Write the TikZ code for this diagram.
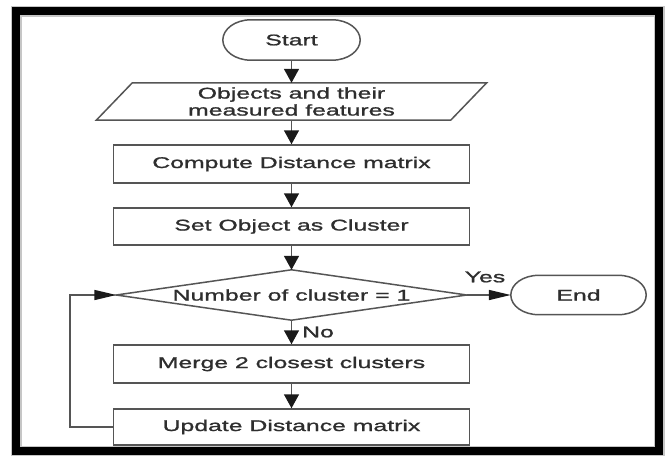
\documentclass[tikz,border=0pt]{standalone}
\usepackage{fontspec}
\setmainfont[FakeStretch=1.6,FakeBold=1.2]{Liberation Sans}
\usetikzlibrary{arrows.meta}
\definecolor{ln}{HTML}{555555}
\definecolor{tx}{HTML}{2E2E2E}
\definecolor{ah}{HTML}{1A1A1A}
\newcommand{\stadium}[1]{%
  \draw[ln, line width=1.5pt]
    ([xshift=28pt]#1.north west) -- ([xshift=-28pt]#1.north east)
    .. controls ([xshift=-12.5pt]#1.north east) and ([yshift=11pt]#1.east) .. (#1.east)
    .. controls ([yshift=-11pt]#1.east) and ([xshift=-12.5pt]#1.south east) .. ([xshift=-28pt]#1.south east)
    -- ([xshift=28pt]#1.south west)
    .. controls ([xshift=12.5pt]#1.south west) and ([yshift=-11pt]#1.west) .. (#1.west)
    .. controls ([yshift=11pt]#1.west) and ([xshift=12.5pt]#1.north west) .. cycle;}
\begin{document}
\begin{tikzpicture}[x=1pt,y=-1pt,
  txt/.style={inner sep=0pt, text=tx, font=\fontsize{15.5}{17}\selectfont, align=center},
  box/.style={txt, draw=ln, line width=1.5pt, minimum width=356pt},
  varrow/.style={draw=ln, line width=1.5pt, -{Triangle[length=14pt,width=15pt,color=ah]}},
  harrow/.style={draw=ln, line width=1.5pt, -{Triangle[length=22pt,width=10pt,color=ah]}}]
\useasboundingbox (0,0) rectangle (666,455);
\fill[white] (0,0) rectangle (666,455);
\draw[gray!45, line width=11pt] (16,11) rectangle (659,451);
\draw[black, line width=8pt] (16,11) rectangle (659,451);

\node[txt, minimum width=137pt, minimum height=40pt] (start) at (291.5,40) {Start};
\stadium{start}
\node[txt, minimum width=354pt, minimum height=37pt] (in) at (291.5,101.5) {Objects and their\\measured features};
\draw[ln, line width=1.5pt] ([xshift=18pt]in.north west) -- ([xshift=18pt]in.north east)
  -- ([xshift=-18pt]in.south east) -- ([xshift=-18pt]in.south west) -- cycle;
\node[box, minimum height=38pt] (comp) at (291.5,164) {Compute Distance matrix};
\node[box, minimum height=37pt] (set) at (291.5,226.5) {Set Object as Cluster};
\node[txt, minimum width=350pt, minimum height=50pt] (dec) at (291.5,295) {Number of cluster = 1};
\draw[ln, line width=1.5pt] (dec.north) -- (dec.east) -- (dec.south) -- (dec.west) -- cycle;
\node[txt, minimum width=135pt, minimum height=39pt] (end) at (578.5,295) {End};
\stadium{end}
\node[box, minimum height=38pt] (merge) at (291.5,364) {Merge 2 closest clusters};
\node[box, minimum height=36pt] (upd) at (291.5,427) {Update Distance matrix};
\node[txt] (yes) at (485,277) {Yes};
\node[txt] (no) at (318,332) {No};
\coordinate (loop) at (70,360);

\draw[varrow] (start.south) -- (in.north);
\draw[varrow] (in.south) -- (comp.north);
\draw[varrow] (comp.south) -- (set.north);
\draw[varrow] (set.south) -- (dec.north);
\draw[varrow] (dec.south) -- (merge.north);
\draw[varrow] (merge.south) -- (upd.north);
\draw[harrow] (dec.east) -- (end.west);
\draw[harrow] (upd.west) -- (upd.west -| loop) -- (dec.west -| loop) -- (dec.west);
\end{tikzpicture}
\end{document}
